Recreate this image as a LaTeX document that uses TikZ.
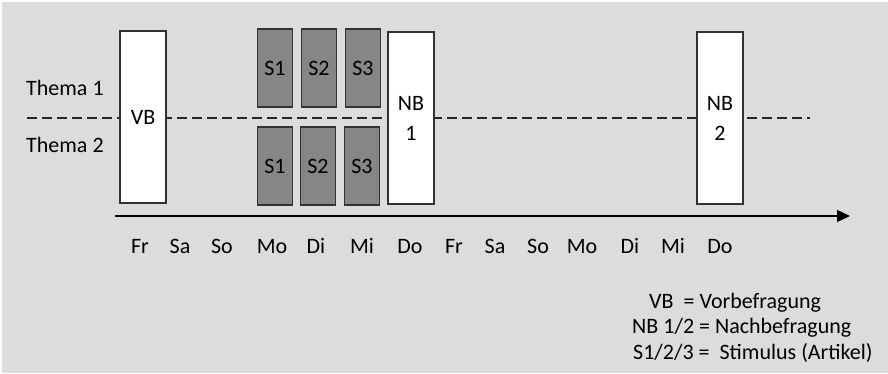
\documentclass[tikz,border=0pt]{standalone}
\usepackage{fontspec}
\setmainfont{Carlito}
\usetikzlibrary{arrows.meta}
\definecolor{bggray}{RGB}{220,220,220}
\definecolor{boxgray}{RGB}{134,134,134}
\definecolor{edgegray}{RGB}{50,50,50}
\begin{document}
\begin{tikzpicture}[x=1pt,y=-1pt,
  txt/.style={font=\fontsize{22}{25}\selectfont, inner sep=0pt},
  wbox/.style={draw=edgegray, line width=1.5pt, fill=white, minimum width=46pt, minimum height=172pt, inner sep=0pt, align=center, font=\fontsize{22}{30}\selectfont},
  sbox/.style={draw=edgegray, line width=1.5pt, fill=boxgray, minimum width=35pt, minimum height=78pt, inner sep=0pt, font=\fontsize{22}{25}\selectfont},
  dayl/.style={txt, anchor=base}
]
\useasboundingbox (0,0) rectangle (888,373);
\fill[white] (0,0) rectangle (888,373);
\fill[bggray] (2,2) rectangle (888,373);

% dashed divider
\coordinate (dL) at (27,118);
\coordinate (dR) at (810,118);
\draw[line width=1.5pt, dash pattern=on 10pt off 5pt, black!85] (dL) -- (dR);

% labels
\node[txt, anchor=west] (t1) at (26,88) {Thema 1};
\node[txt, anchor=west] (t2) at (26,145) {Thema 2};

% boxes
\node[wbox] (vb) at (143,117) {VB};
\node[sbox] (s1a) at (275,68) {S1};
\node[sbox] (s2a) at (319,68) {S2};
\node[sbox] (s3a) at (363,68) {S3};
\node[sbox] (s1b) at (275,166) {S1};
\node[sbox] (s2b) at (318,166) {S2};
\node[sbox] (s3b) at (362,166) {S3};
\node[wbox] (nb1) at (411,118) {NB\\1};
\node[wbox] (nb2) at (720,118) {NB\\2};

% time axis
\coordinate (a0) at (115,216);
\coordinate (a1) at (850,216);
\draw[line width=1.4pt, -{Triangle[length=13pt,width=12pt]}] (a0) -- (a1);

% days
\foreach \d/\x [count=\i from 0] in {Fr/140,Sa/180,So/222,Mo/272,Di/316,Mi/362,Do/410,Fr/454,Sa/495,So/538,Mo/582,Di/630,Mi/673,Do/720}{
  \node[dayl] (day\i) at (\x,253) {\d};
}

% legend
\node[txt, anchor=west] (l1) at (649,303) {VB\ \ = Vorbefragung};
\node[txt, anchor=west] (l2) at (632,328) {NB 1/2 = Nachbefragung};
\node[txt, anchor=west] (l3) at (633,353) {S1/2/3 =\ \ Stimulus (Artikel)};
\end{tikzpicture}
\end{document}
